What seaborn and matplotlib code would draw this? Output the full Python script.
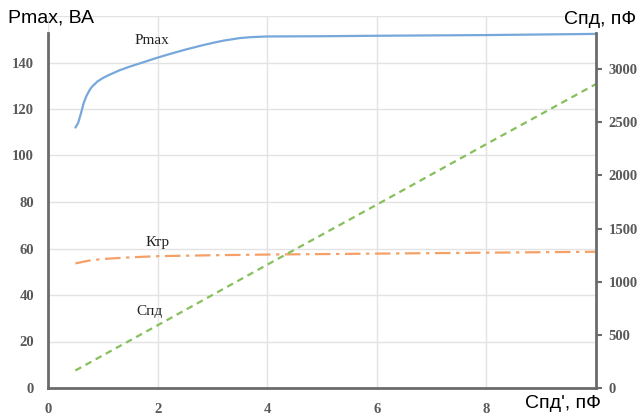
import matplotlib
matplotlib.use("Agg")
import matplotlib.pyplot as plt
import seaborn as sns
import pandas as pd

# --- data ---
pmax_x = [0.5, 0.55, 0.6, 0.65, 0.7, 0.75, 0.8, 0.9, 1.0, 1.1, 1.3, 1.5, 1.7, 2.0, 2.2,
          2.5, 2.8, 3.0, 3.2, 3.5, 3.7, 4.0, 5.0, 6.0, 8.0, 10.0]
pmax_y = [112, 114, 118, 122.5, 125.5, 127.8, 129.5, 131.8, 133.3, 134.5, 136.6, 138.3, 139.8,
          142.1, 143.5, 145.5, 147.3, 148.4, 149.4, 150.5, 150.9, 151.2, 151.3, 151.5, 151.8, 152.3]

ktr_x = [0.5, 0.75, 1.0, 1.5, 2.0, 3.0, 4.0, 5.0, 6.0, 7.0, 8.0, 9.0, 10.0]
ktr_y = [53.6, 54.8, 55.5, 56.2, 56.7, 57.1, 57.4, 57.6, 57.8, 58.0, 58.2, 58.4, 58.6]

cpd_x = [0.5, 2.0, 4.0, 6.0, 8.0, 10.0]
cpd_y = [165, 590, 1160, 1725, 2295, 2860]

x_ticks = [0, 2, 4, 6, 8]
left_ticks = [0, 20, 40, 60, 80, 100, 120, 140]
right_ticks = [0, 500, 1000, 1500, 2000, 2500, 3000]

sns.set_theme(style="white")
plt.rcParams['font.family'] = ['Liberation Serif', 'DejaVu Serif']

fig = plt.figure(figsize=(6.41, 4.16), dpi=100)
ax = fig.add_axes([48/641, 1-388/416, (596-48)/641, (388-16)/416])
ax2 = ax.twinx()

c_blue = "#76a8dc"
c_orange = "#f4a066"
c_green = "#86bf5c"
spine_c = "#6b6b6b"
tick_c = "#595959"
grid_c = "#e3e3e3"

df_p = pd.DataFrame({"x": pmax_x, "y": pmax_y})
df_k = pd.DataFrame({"x": ktr_x, "y": ktr_y})
df_c = pd.DataFrame({"x": cpd_x, "y": cpd_y})

sns.lineplot(data=df_p, x="x", y="y", ax=ax, color=c_blue, linewidth=1.6)
sns.lineplot(data=df_k, x="x", y="y", ax=ax, color=c_orange, linewidth=1.6)
ax.lines[-1].set_dashes([7, 2.5, 1.5, 2.5])
sns.lineplot(data=df_c, x="x", y="y", ax=ax2, color=c_green, linewidth=1.6)
ax2.lines[-1].set_dashes([3, 2.2])

ax.set_xlim(0, 10)
ax.set_ylim(0, 160)
ax2.set_ylim(0, 3500)

ax.set_xticks([0, 2, 4, 6, 8, 10])
ax.set_xticklabels([str(t) for t in x_ticks] + [""])
ax.set_yticks(left_ticks + [160])
ax.set_yticklabels([str(t) for t in left_ticks] + [""])
ax2.set_yticks(right_ticks)
ax2.set_yticklabels([str(t) for t in right_ticks])

ax.grid(True, color=grid_c, linewidth=1.0)
ax2.grid(False)
ax.set_axisbelow(True)

for a in (ax, ax2):
    a.set_xlabel("")
    a.set_ylabel("")
    for s in a.spines.values():
        s.set_visible(False)

ax.spines['left'].set_visible(True)
ax.spines['left'].set_color(spine_c)
ax.spines['left'].set_linewidth(2.0)
ax.spines['left'].set_bounds(0, 152.5)
ax.spines['bottom'].set_visible(True)
ax.spines['bottom'].set_color(spine_c)
ax.spines['bottom'].set_linewidth(2.0)
ax2.spines['right'].set_visible(True)
ax2.spines['right'].set_color(spine_c)
ax2.spines['right'].set_linewidth(2.0)
ax2.spines['right'].set_bounds(0, 3336)

ax.tick_params(axis='x', length=0, pad=11, labelsize=10.5, labelcolor=tick_c)
ax.tick_params(axis='y', length=0, pad=10, labelsize=10.5, labelcolor=tick_c)
ax2.tick_params(axis='y', length=4, width=1.5, color=spine_c, pad=5,
                labelsize=10.5, labelcolor=tick_c, right=True)
for lab in ax.get_xticklabels() + ax.get_yticklabels() + ax2.get_yticklabels():
    lab.set_fontweight('bold')

# curve labels
ax.text(1.9, 149.5, "Pmax", fontsize=11, color="#222222", ha='center', va='center')
ax.text(2.0, 62.5, "Ктр", fontsize=11, color="#222222", ha='center', va='center')
ax.text(1.85, 32.8, "Спд", fontsize=11, color="#222222", ha='center', va='center')

# axis titles
sans = ['Liberation Sans', 'DejaVu Sans']
fig.text(8/641, 1-18/416, "Pmax, ВА", fontsize=14, family=sans, color="black",
         ha='left', va='center')
fig.text(636/641, 1-20/416, "Спд, пФ", fontsize=14, family=sans, color="black",
         ha='right', va='center')
fig.text(563/641, 1-404/416, "Спд', пФ", fontsize=14, family=sans, color="black",
         ha='center', va='center')

fig.savefig("out.png", dpi=100)
